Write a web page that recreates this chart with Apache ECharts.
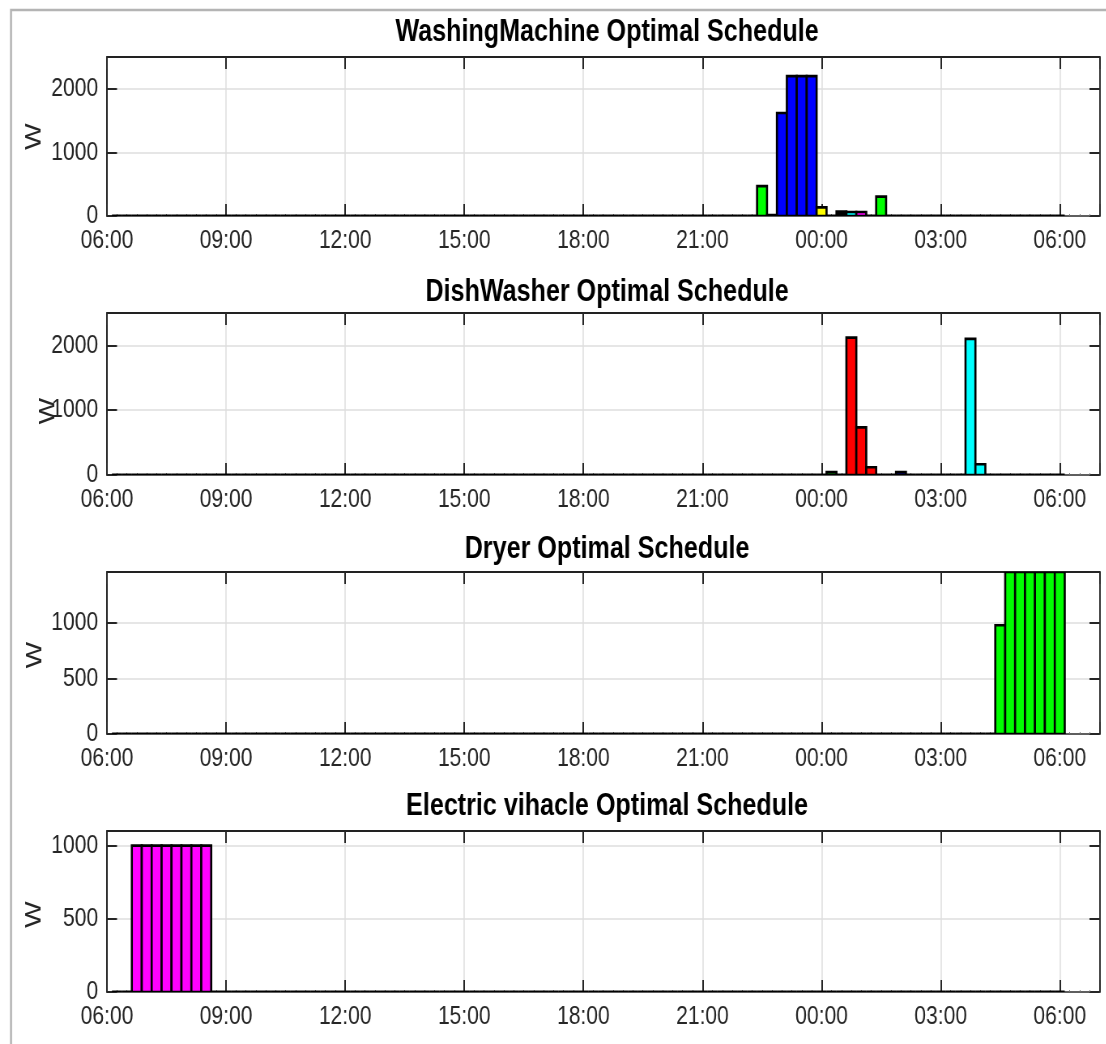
<!DOCTYPE html>
<html>
<head>
<meta charset="utf-8">
<script src="https://cdn.jsdelivr.net/npm/echarts@6/dist/echarts.min.js"></script>
<style>
  html, body { margin: 0; padding: 0; background: #fff; overflow: hidden; width: 1106px; height: 1044px; }
  /* the original figure has narrow, tall lettering: draw wider and squeeze horizontally */
  #chart { width: 1366px; height: 1044px; transform: scaleX(0.81); transform-origin: 0 0; }
</style>
</head>
<body>
<div id="chart"></div>
<script>
const SX = 0.81

// x ticks (hours after 06:00), shown as clock time
const tickLabels = ['06:00', '09:00', '12:00', '15:00', '18:00', '21:00', '00:00', '03:00', '06:00']

// washing machine: slots with power, rest of the day is 0
const wmTimes = ['22:30', '22:45', '23:00', '23:15', '23:30', '23:45', '00:00', '00:30', '00:45', '01:00', '01:30']
const wmPower = [470, 15, 1620, 2200, 2200, 2200, 135, 70, 62, 62, 305]
const wmColors = ['#00ff00', '#000000', '#0000ff', '#0000ff', '#0000ff', '#0000ff', '#ffff00', '#000000', '#00ffff', '#ff00ff', '#00ff00']

// dish washer
const dwTimes = ['00:15', '00:45', '01:00', '01:15', '02:00', '03:45', '04:00']
const dwPower = [45, 2120, 735, 120, 45, 2100, 165]
const dwColors = ['#00ff00', '#ff0000', '#ff0000', '#ff0000', '#0000ff', '#00ffff', '#00ffff']

// dryer
const drTimes = ['04:30', '04:45', '05:00', '05:15', '05:30', '05:45', '06:00']
const drPower = [980, 1460, 1460, 1460, 1460, 1460, 1460]
const drColors = ['#00ff00', '#00ff00', '#00ff00', '#00ff00', '#00ff00', '#00ff00', '#00ff00']

// electric vehicle
const evTimes = ['06:45', '07:00', '07:15', '07:30', '07:45', '08:00', '08:15', '08:30']
const evPower = [1000, 1000, 1000, 1000, 1000, 1000, 1000, 1000]
const evColors = ['#ff00ff', '#ff00ff', '#ff00ff', '#ff00ff', '#ff00ff', '#ff00ff', '#ff00ff', '#ff00ff']

const titles = ['WashingMachine Optimal Schedule', 'DishWasher Optimal Schedule', 'Dryer Optimal Schedule', 'Electric vihacle Optimal Schedule']

// hours after 06:00 for a clock time (06:00 at the end of the day -> 24)
function toHours (t) {
  const [h, m] = t.split(':').map(Number)
  let v = ((h - 6 + 24) % 24) + m / 60
  if (v === 0) v = 24
  return v
}

// 96 quarter-hour slots 06:15 .. 06:00, zero where nothing runs
function buildSlots (times, power, colors) {
  const rows = []
  for (let k = 1; k <= 96; k++) rows.push([k * 0.25, 0, '#000000'])
  times.forEach((t, i) => {
    const k = Math.round(toHours(t) * 4)
    rows[k - 1] = [k * 0.25, power[i], colors[i]]
  })
  return rows
}

const devices = [
  { data: buildSlots(wmTimes, wmPower, wmColors), max: 2500, interval: 1000, top: 57, height: 159, titleTop: 12, nameGap: 76, namePad: [0, 0, 0, 0] },
  { data: buildSlots(dwTimes, dwPower, dwColors), max: 2500, interval: 1000, top: 313, height: 162, titleTop: 272, nameGap: 59, namePad: [0, 34, 0, 0] },
  { data: buildSlots(drTimes, drPower, drColors), max: 1460, interval: 500, top: 572, height: 162, titleTop: 529, nameGap: 75, namePad: [0, 4, 0, 0] },
  { data: buildSlots(evTimes, evPower, evColors), max: 1100, interval: 500, top: 831, height: 161, titleTop: 786, nameGap: 76, namePad: [0, 6, 0, 0] }
]

const font = '"Liberation Sans", Arial, sans-serif'
const textColor = '#262626'

const grid = []
const xAxis = []
const yAxis = []
const series = []
const title = []

devices.forEach((d, i) => {
  grid.push({ left: 107 / SX, right: 7 / SX, top: d.top, height: d.height, outerBoundsMode: 'none' })
  title.push({
    text: titles[i],
    left: 603 / SX,
    top: d.titleTop,
    textAlign: 'center',
    textStyle: { fontFamily: font, fontSize: 31, fontWeight: 'bold', color: '#000' }
  })
  xAxis.push({
    type: 'value', gridIndex: i, min: 0, max: 25, interval: 3, position: 'bottom',
    axisLine: { onZero: false, lineStyle: { color: '#333', width: 1.5 } },
    axisTick: { inside: true, length: 12, lineStyle: { color: '#262626', width: 2 } },
    minorTick: { show: true, splitNumber: 12, length: 2, lineStyle: { color: '#777' } },
    splitLine: { show: true, lineStyle: { color: '#dedede', width: 1.5 } },
    axisLabel: {
      showMaxLabel: false, margin: 12, fontFamily: font, fontSize: 26, color: textColor,
      formatter: v => tickLabels[Math.round(v / 3)] || ''
    }
  })
  xAxis.push({
    type: 'value', gridIndex: i, min: 0, max: 25, interval: 3, position: 'top',
    axisLine: { onZero: false, lineStyle: { color: '#222', width: 2 } },
    axisTick: { inside: true, length: 12, lineStyle: { color: '#262626', width: 2 } },
    splitLine: { show: false }, axisLabel: { show: false }
  })
  yAxis.push({
    type: 'value', gridIndex: i, min: 0, max: d.max, interval: d.interval, position: 'left',
    name: 'W', nameLocation: 'middle', nameGap: d.nameGap, nameRotate: 90, nameMoveOverlap: false,
    nameTextStyle: { fontFamily: font, fontSize: 28, color: textColor, padding: d.namePad },
    axisLine: { show: true, onZero: false, lineStyle: { color: '#222', width: 2 } },
    axisTick: { inside: true, length: 10 / SX, lineStyle: { color: '#262626', width: 2 } },
    splitLine: { show: true, lineStyle: { color: '#dedede', width: 1.5 } },
    axisLabel: {
      showMaxLabel: false, margin: 11, fontFamily: font, fontSize: 26, color: textColor,
      formatter: v => (v % d.interval === 0 ? String(v) : '')
    }
  })
  yAxis.push({
    type: 'value', gridIndex: i, min: 0, max: d.max, interval: d.interval, position: 'right',
    axisLine: { show: true, onZero: false, lineStyle: { color: '#333', width: 2 } },
    axisTick: { inside: true, length: 10 / SX, lineStyle: { color: '#262626', width: 2 } },
    splitLine: { show: false }, axisLabel: { show: false }
  })
  series.push({
    type: 'custom',
    xAxisIndex: i * 2,
    yAxisIndex: i * 2,
    data: d.data,
    clip: true,
    z: 3,
    renderItem: (params, api) => {
      const x = api.value(0)
      const y = api.value(1)
      const p0 = api.coord([x - 0.125, y])
      const p1 = api.coord([x + 0.125, 0])
      if (y === 0) {
        // empty slot: MATLAB still draws the flat bar outline on the baseline
        return {
          type: 'line',
          shape: { x1: p0[0], y1: p1[1], x2: p1[0], y2: p1[1] },
          style: { stroke: '#000', lineWidth: 3 }
        }
      }
      return {
        type: 'rect',
        shape: { x: p0[0], y: p0[1], width: p1[0] - p0[0], height: p1[1] - p0[1] },
        style: { fill: d.data[params.dataIndex][2], stroke: '#000', lineWidth: 2.6 }
      }
    }
  })
})

const chart = echarts.init(document.getElementById('chart'))
chart.setOption({
  backgroundColor: '#fff',
  animation: false,
  title,
  grid,
  xAxis,
  yAxis,
  series,
  graphic: [{
    type: 'rect',
    shape: { x: 11 / SX, y: 10, width: 1600, height: 1100 },
    style: { fill: null, stroke: '#b4b4b4', lineWidth: 2.5 },
    z: -1
  }]
})
</script>
</body>
</html>
